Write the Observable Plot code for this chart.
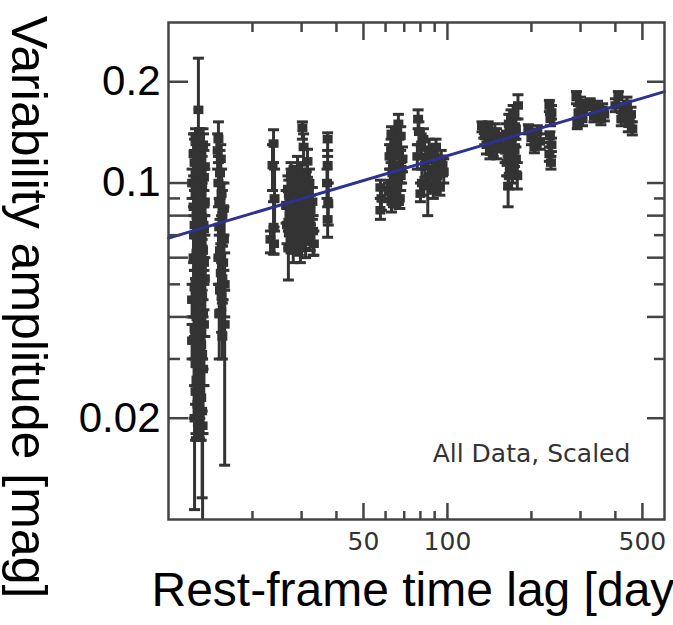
<!DOCTYPE html>
<html><head><meta charset="utf-8">
<script src="https://cdn.jsdelivr.net/npm/d3@7"></script>
<script src="https://cdn.jsdelivr.net/npm/@observablehq/plot@0.6"></script>
<style>html,body{margin:0;padding:0;background:#fff;} #chart{width:673px;height:625px;overflow:hidden;}</style>
</head><body><div id="chart"></div>
<script>
// ---- data: [lag (days), amplitude, upper error, lower error] ----
const clusterA = [
  [12.8,0.165,0.235,0.11],[12.5,0.135,0.145,0.1],[13.3,0.13,0.145,0.095],[12.3,0.122,0.14,0.085],
  [13.0,0.12,0.145,0.08],[13.5,0.112,0.13,0.08],[12.7,0.108,0.13,0.075],[12.4,0.1,0.125,0.07],
  [13.2,0.098,0.12,0.068],[12.9,0.093,0.12,0.062],[13.5,0.088,0.11,0.06],[12.3,0.085,0.105,0.058],
  [12.6,0.08,0.1,0.055],[13.1,0.077,0.1,0.05],[13.4,0.073,0.095,0.05],[12.5,0.07,0.09,0.045],
  [12.8,0.066,0.09,0.042],[13.3,0.063,0.085,0.04],[12.3,0.06,0.08,0.04],[13.0,0.057,0.08,0.036],
  [12.7,0.054,0.075,0.034],[13.5,0.052,0.07,0.035],[12.4,0.049,0.07,0.03],[13.2,0.046,0.065,0.03],
  [12.9,0.043,0.062,0.027],[12.6,0.04,0.06,0.025],[13.4,0.038,0.055,0.025],[12.5,0.035,0.052,0.022],
  [13.1,0.033,0.05,0.021],[12.8,0.03,0.048,0.019],[13.3,0.028,0.045,0.018],[12.6,0.026,0.042,0.0175],
  [13.0,0.024,0.04,0.0172],[12.7,0.022,0.038,0.0172],[12.4,0.02,0.035,0.0107],[13.2,0.021,0.035,0.0116],
  [13.25,0.019,0.03,0.008],[12.15,0.1,0.11,0.09],[12.15,0.034,0.038,0.03],[12.15,0.045,0.05,0.04],
  [12.9,0.128,0.14,0.11],[12.4,0.115,0.135,0.095],[13.4,0.104,0.125,0.085],[12.6,0.095,0.115,0.075],
  [13.0,0.09,0.11,0.07],[12.8,0.082,0.1,0.06],[13.2,0.079,0.1,0.06],[12.4,0.075,0.095,0.055],
  [13.0,0.068,0.09,0.05],[12.6,0.062,0.085,0.045],[13.4,0.058,0.08,0.042],[12.8,0.055,0.075,0.04],
  [12.5,0.051,0.07,0.036],[13.0,0.048,0.068,0.034],[12.7,0.045,0.065,0.03],[13.3,0.041,0.06,0.028],
  [12.4,0.037,0.055,0.025],[12.9,0.036,0.052,0.024],[13.2,0.031,0.048,0.021],[12.5,0.029,0.045,0.02],
  [12.9,0.027,0.042,0.0175],[12.5,0.024,0.04,0.0172],[13.1,0.023,0.038,0.0172],
  [12.35,0.07,0.14,0.02],[12.55,0.06,0.13,0.018],[12.75,0.05,0.14,0.0172],[12.95,0.065,0.145,0.02],
  [13.15,0.055,0.13,0.018],[13.35,0.075,0.14,0.025]
];
const clusterB = [
  [15.1,0.135,0.152,0.12],[15.0,0.125,0.14,0.11],[15.3,0.107,0.125,0.09],[15.1,0.1,0.115,0.085],
  [15.5,0.093,0.11,0.08],[15.2,0.087,0.1,0.07],[15.6,0.08,0.095,0.065],[15.2,0.074,0.09,0.06],
  [15.8,0.068,0.085,0.055],[15.3,0.063,0.078,0.05],[15.7,0.058,0.07,0.045],[15.4,0.054,0.066,0.042],
  [15.9,0.05,0.062,0.04],[15.5,0.046,0.058,0.036],[15.2,0.041,0.05,0.03],[15.9,0.038,0.048,0.0145],
  [15.6,0.035,0.045,0.03],[15.4,0.118,0.13,0.1],[15.8,0.084,0.1,0.07],[15.1,0.06,0.075,0.05],
  [15.6,0.052,0.065,0.044],[15.3,0.048,0.06,0.04]
];
const clusterC1 = [
  [23.8,0.131,0.144,0.115],[23.6,0.113,0.13,0.095],[24.0,0.09,0.11,0.072],
  [23.8,0.074,0.088,0.0615],[23.9,0.066,0.074,0.0615],[23.2,0.068,0.072,0.062]
];
const clusterC2 = [
  [30.2,0.146,0.152,0.135],[30.5,0.128,0.14,0.115],[31.5,0.116,0.126,0.104],[29.0,0.11,0.12,0.098],
  [27.5,0.106,0.115,0.094],[30.0,0.104,0.113,0.092],[32.0,0.1,0.11,0.088],[28.5,0.099,0.108,0.086],
  [26.8,0.096,0.105,0.084],[31.0,0.094,0.104,0.082],[29.5,0.092,0.102,0.08],[27.8,0.09,0.1,0.078],
  [32.8,0.088,0.097,0.078],[26.4,0.086,0.095,0.076],[30.5,0.085,0.095,0.074],[28.8,0.083,0.092,0.072],
  [27.2,0.08,0.09,0.07],[31.8,0.079,0.088,0.07],[29.8,0.077,0.086,0.068],[26.6,0.075,0.084,0.066],
  [28.2,0.073,0.082,0.064],[30.8,0.072,0.08,0.064],[27.5,0.069,0.077,0.062],[29.2,0.067,0.075,0.061],
  [26.9,0.064,0.072,0.0515],[33.0,0.072,0.08,0.061],[33.2,0.066,0.072,0.061],[32.2,0.069,0.076,0.063],
  [28.0,0.063,0.07,0.058],[28.0,0.102,0.11,0.094],[31.2,0.098,0.108,0.09],[27.0,0.093,0.102,0.085],
  [29.8,0.089,0.098,0.08],[32.3,0.083,0.092,0.075],[27.9,0.079,0.088,0.07],[30.2,0.075,0.083,0.068],
  [31.5,0.074,0.082,0.066],[28.6,0.07,0.078,0.063],[29.7,0.064,0.07,0.058],[27.0,0.071,0.078,0.064],
  [31.0,0.067,0.074,0.06],[27.5,0.085,0.11,0.065],[29.0,0.08,0.105,0.062],[30.5,0.088,0.11,0.066],
  [28.2,0.09,0.112,0.068]
];
const clusterC3 = [
  [37.2,0.135,0.141,0.12],[37.2,0.113,0.125,0.1],[37.0,0.1,0.11,0.09],
  [37.4,0.087,0.1,0.075],[37.2,0.078,0.085,0.069]
];
const clusterD1 = [
  [66.7,0.15,0.16,0.14],[63.0,0.14,0.147,0.13],[68.0,0.138,0.147,0.125],[64.5,0.13,0.14,0.12],
  [67.0,0.125,0.135,0.115],[62.0,0.12,0.13,0.11],[69.0,0.118,0.128,0.108],[65.0,0.113,0.122,0.102],
  [63.5,0.107,0.118,0.097],[68.0,0.105,0.115,0.095],[62.5,0.1,0.11,0.09],[66.0,0.097,0.107,0.088],
  [64.0,0.093,0.102,0.085],[67.5,0.09,0.1,0.084],[63.0,0.088,0.096,0.082],[57.5,0.097,0.102,0.09],
  [58.0,0.09,0.097,0.083],[57.5,0.083,0.09,0.078],[67.0,0.088,0.095,0.084],[65.5,0.135,0.145,0.125],
  [62.8,0.125,0.135,0.115],[68.5,0.11,0.12,0.1],[64.8,0.102,0.11,0.094],[61.5,0.094,0.1,0.088]
];
const clusterD2 = [
  [78.5,0.155,0.165,0.145],[79.0,0.142,0.152,0.13],[80.5,0.13,0.14,0.12],[78.0,0.12,0.13,0.11],
  [86.0,0.125,0.135,0.115],[90.0,0.12,0.13,0.11],[95.0,0.118,0.125,0.108],[83.0,0.113,0.122,0.104],
  [88.0,0.11,0.12,0.1],[97.0,0.108,0.118,0.1],[92.0,0.105,0.115,0.096],[81.0,0.1,0.11,0.092],
  [85.0,0.098,0.105,0.08],[94.0,0.097,0.105,0.092],[89.0,0.095,0.103,0.09],[80.0,0.093,0.1,0.088],
  [82.0,0.135,0.145,0.125],[91.0,0.128,0.135,0.12],[84.0,0.118,0.128,0.11],[96.0,0.113,0.12,0.105],
  [86.0,0.105,0.112,0.098],[91.0,0.1,0.108,0.094]
];
const clusterE1 = [
  [133,0.148,0.152,0.142],[140,0.145,0.152,0.138],[148,0.142,0.15,0.135],[136,0.138,0.145,0.13],
  [145,0.135,0.142,0.128],[152,0.132,0.14,0.125],[138,0.13,0.137,0.122],[150,0.126,0.133,0.118],
  [142,0.124,0.13,0.118],[135,0.143,0.15,0.136],[146,0.128,0.135,0.12],[150,0.138,0.145,0.13]
];
const clusterE2 = [
  [179,0.17,0.183,0.155],[172,0.16,0.17,0.148],[166,0.15,0.16,0.14],[176,0.145,0.155,0.135],
  [162,0.14,0.15,0.13],[170,0.135,0.145,0.125],[165,0.13,0.14,0.12],[174,0.125,0.135,0.112],
  [168,0.12,0.13,0.11],[163,0.115,0.125,0.105],[171,0.11,0.12,0.1],[166,0.105,0.115,0.096],
  [165,0.098,0.105,0.085],[178,0.105,0.115,0.096],[169,0.155,0.165,0.145],[174,0.14,0.15,0.13],
  [161,0.125,0.135,0.115],[176,0.118,0.128,0.108]
];
const clusterE3 = [
  [195,0.145,0.149,0.14],[210,0.142,0.148,0.135],[200,0.136,0.142,0.13],
  [215,0.133,0.14,0.126],[205,0.128,0.134,0.123]
];
const clusterE4 = [
  [232,0.17,0.176,0.163],[236,0.162,0.17,0.155],[234,0.155,0.16,0.148],[233,0.138,0.142,0.132],
  [236,0.13,0.136,0.124],[232,0.122,0.128,0.116],[235,0.115,0.12,0.11]
];
const clusterE5 = [
  [290,0.18,0.187,0.172],[300,0.172,0.18,0.165],[295,0.162,0.17,0.155],
  [305,0.155,0.162,0.148],[292,0.15,0.156,0.145],[310,0.168,0.176,0.16]
];
const clusterE6 = [
  [325,0.172,0.178,0.166],[345,0.168,0.175,0.162],[360,0.165,0.172,0.158],
  [335,0.158,0.165,0.152],[355,0.155,0.162,0.149],[340,0.162,0.17,0.155],[365,0.16,0.167,0.153]
];
const clusterE7 = [
  [410,0.18,0.187,0.172],[400,0.17,0.178,0.163],[430,0.165,0.172,0.158],[455,0.16,0.168,0.152],
  [420,0.155,0.162,0.148],[445,0.15,0.157,0.142],[460,0.145,0.152,0.139],[440,0.172,0.18,0.165],
  [425,0.16,0.168,0.152],[450,0.155,0.162,0.148]
];
// power-law fit line end points
const fitLag = [10, 600];
const fitAmp = [0.0686, 0.187];
// tick labels / tick positions
const yLabelTicks = [0.2, 0.1, 0.02];
const xLabelTicks = [50, 100, 500];
const yLongTicks = [0.02, 0.04, 0.06, 0.08, 0.1, 0.2];
const yShortTicks = [0.03, 0.05, 0.07, 0.09];
const xLongTicks = [50, 100, 500];
const xShortTicks = [20, 30, 40, 60, 70, 80, 90, 200, 300, 400];
const xTitle = "Rest-frame time lag [days]";
const yTitle = "Variability amplitude [mag]";
const note = "All Data, Scaled";

// ---- build ----
const rows = [clusterA, clusterB, clusterC1, clusterC2, clusterC3, clusterD1, clusterD2,
  clusterE1, clusterE2, clusterE3, clusterE4, clusterE5, clusterE6, clusterE7]
  .flat().map(([lag, amp, hi, lo]) => ({lag, amp, hi, lo}));
const fit = fitLag.map((lag, i) => ({lag, amp: fitAmp[i]}));

const cap = {draw(ctx, size) { const r = Math.sqrt(size / Math.PI); ctx.moveTo(-r, 0); ctx.lineTo(r, 0); }};
const box = {draw(ctx, size) { const r = Math.sqrt(size / Math.PI); ctx.rect(-r, -r * 0.85, 2 * r, 1.7 * r); }};

const W = 673, H = 625, mL = 168, mR = 9, mT = 22, mB = 106;
const fw = W - mL - mR, fh = H - mT - mB;
const ink = "#333", axc = "#444";

const chart = Plot.plot({
  width: W, height: H, marginLeft: mL, marginRight: mR, marginTop: mT, marginBottom: mB,
  style: {fontFamily: "'Liberation Sans', Arial, sans-serif", background: "#fff"},
  x: {type: "log", domain: [10, 600], axis: null, label: null},
  y: {type: "log", domain: [0.01, 0.3], axis: null, label: null},
  marks: [
    Plot.ruleX(rows, {x: "lag", y1: "lo", y2: "hi", stroke: ink, strokeWidth: 3, clip: true}),
    Plot.dot(rows, {x: "lag", y: "hi", symbol: cap, r: 5.5, fill: "none", stroke: ink, strokeWidth: 3, clip: true}),
    Plot.dot(rows, {x: "lag", y: "lo", symbol: cap, r: 5.5, fill: "none", stroke: ink, strokeWidth: 3, clip: true}),
    Plot.dot(rows, {x: "lag", y: "amp", symbol: box, r: 5, fill: ink, stroke: "none", clip: true}),
    Plot.line(fit, {x: "lag", y: "amp", stroke: "#2c3192", strokeWidth: 3}),
    Plot.tickY(yLongTicks, {y: d => d, insetRight: fw - 20, stroke: axc, strokeWidth: 2.5}),
    Plot.tickY(yShortTicks, {y: d => d, insetRight: fw - 12, stroke: axc, strokeWidth: 2.5}),
    Plot.tickY(yLongTicks, {y: d => d, insetLeft: fw - 17, stroke: axc, strokeWidth: 2.5}),
    Plot.tickY(yShortTicks, {y: d => d, insetLeft: fw - 10, stroke: axc, strokeWidth: 2.5}),
    Plot.tickX(xLongTicks, {x: d => d, insetTop: fh - 16, stroke: axc, strokeWidth: 2.5}),
    Plot.tickX(xShortTicks, {x: d => d, insetTop: fh - 8, stroke: axc, strokeWidth: 2.5}),
    Plot.tickX(xLongTicks, {x: d => d, insetBottom: fh - 18, stroke: axc, strokeWidth: 2.5}),
    Plot.tickX(xShortTicks, {x: d => d, insetBottom: fh - 10, stroke: axc, strokeWidth: 2.5}),
    Plot.frame({stroke: axc, strokeWidth: 2.5}),
    Plot.axisY(yLabelTicks, {tickSize: 0, tickPadding: 8, fontSize: 42, fill: "#000", tickFormat: d => String(d), label: null}),
    Plot.text(xLabelTicks, {x: d => d, text: d => String(d), frameAnchor: "bottom", textAnchor: "middle", lineAnchor: "top", dy: 13, fontSize: 25, fontFamily: "'DejaVu Sans', sans-serif", fill: "#333"}),
    Plot.text([xTitle], {frameAnchor: "bottom-left", textAnchor: "start", lineAnchor: "middle", dx: -17, dy: 71, fontSize: 48, fill: "#000"}),
    Plot.text([yTitle], {frameAnchor: "left", textAnchor: "middle", lineAnchor: "middle", rotate: 90, dx: -141, dy: 36, fontSize: 50, fill: "#000"}),
    Plot.text([note], {frameAnchor: "bottom-right", textAnchor: "middle", lineAnchor: "middle", dx: -133, dy: -66, fontSize: 25, fontFamily: "'DejaVu Sans', sans-serif", fill: "#333"})
  ]
});
document.getElementById("chart").appendChild(chart);
</script>
</body></html>
